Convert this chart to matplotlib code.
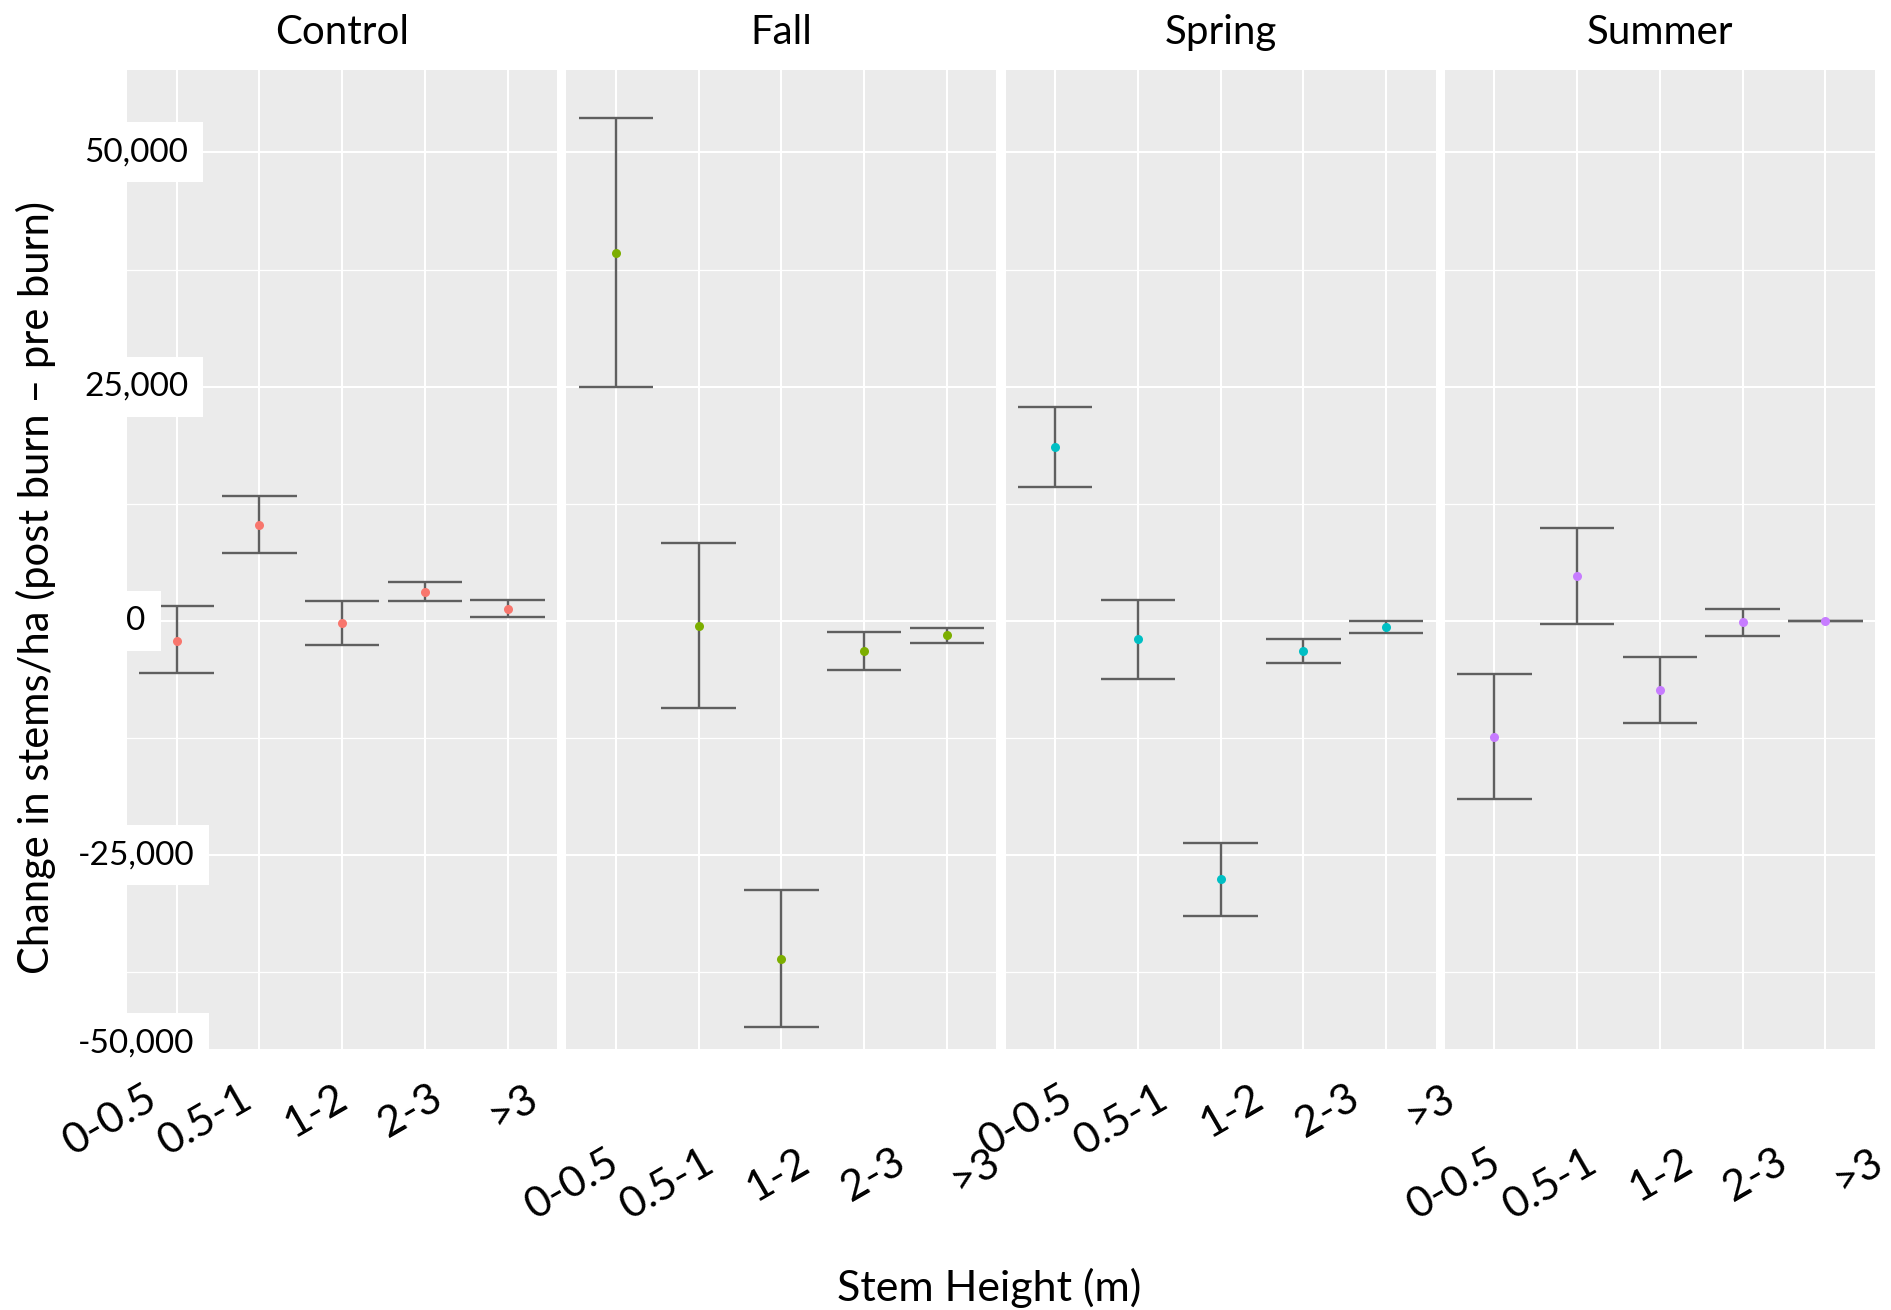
import matplotlib.pyplot as plt
import matplotlib.transforms as mtransforms

plt.rcParams['font.family'] = ['Lato', 'DejaVu Sans']

# treatments (facets) and stem height classes
treatments = ['Control', 'Fall', 'Spring', 'Summer']
heights = ['0-0.5', '0.5-1', '1-2', '2-3', '>3']
colors = ['#F8766D', '#7CAE00', '#00BFC4', '#C77CFF']

# change in stems/ha: mean and error bar ends
control_mean = [-2130, 10250, -210, 3100, 1310]
control_lo = [-5550, 7260, -2560, 2160, 430]
control_hi = [1540, 13340, 2160, 4160, 2200]

fall_mean = [39260, -500, -36080, -3190, -1500]
fall_lo = [24920, -9250, -43360, -5210, -2320]
fall_hi = [53620, 8330, -28740, -1170, -770]

spring_mean = [18570, -1910, -27580, -3260, -630]
spring_lo = [14260, -6220, -31490, -4540, -1300]
spring_hi = [22820, 2260, -23680, -1970, -20]

summer_mean = [-12360, 4760, -7370, -160, 0]
summer_lo = [-18960, -360, -10880, -1580, 0]
summer_hi = [-5690, 9950, -3860, 1260, 0]

means = [control_mean, fall_mean, spring_mean, summer_mean]
lows = [control_lo, fall_lo, spring_lo, summer_lo]
highs = [control_hi, fall_hi, spring_hi, summer_hi]

ytick_vals = [50000, 25000, 0, -25000]
ytick_labels = ['50,000', '25,000', '0', '-25,000']

fig, axes = plt.subplots(1, 4, figsize=(18.91, 13.10), dpi=100, sharey=True)
fig.subplots_adjust(left=0.0672, right=0.9915, bottom=0.1992, top=0.9466, wspace=0.021)

# the pasted x labels sit lower under Fall and Summer and drift right
label_drop = [46, 110, 46, 110]
label_shift = [-23, 0, 15, 4]

x = list(range(len(heights)))
for j, ax in enumerate(axes):
    ax.set_facecolor('#EBEBEB')
    for s in ax.spines.values():
        s.set_visible(False)
    ax.set_xlim(-0.6, 4.6)
    ax.set_ylim(-45700, 58800)
    ax.set_xticks(x)
    ax.set_yticks([-25000, 0, 25000, 50000])
    ax.set_yticks([-37500, -12500, 12500, 37500], minor=True)
    ax.tick_params(which='both', length=0, labelbottom=False, labelleft=False)
    ax.grid(which='major', color='white', lw=1.5)
    ax.grid(which='minor', axis='y', color='white', lw=0.9)
    ax.set_axisbelow(True)

    ax.vlines(x, lows[j], highs[j], color='#5f5f5f', lw=1.7, zorder=3)
    ax.hlines(lows[j], [i - 0.45 for i in x], [i + 0.45 for i in x], color='#5f5f5f', lw=1.7, zorder=3)
    ax.hlines(highs[j], [i - 0.45 for i in x], [i + 0.45 for i in x], color='#5f5f5f', lw=1.7, zorder=3)
    ax.plot(x, means[j], 'o', color=colors[j], ms=6.5, mec='none', zorder=4)

    ax.text(0.5, 1.038, treatments[j], transform=ax.transAxes, ha='center', va='center', fontsize=29)

    base = mtransforms.blended_transform_factory(ax.transData, ax.transAxes)
    for i, lab in enumerate(heights):
        tr = mtransforms.offset_copy(base, fig=fig, x=label_shift[j] + 12.5 * i,
                                     y=-label_drop[j], units='dots')
        ax.text(i, 0, lab, transform=tr, rotation=30, rotation_mode='anchor',
                ha='right', va='center', fontsize=31)

# y tick labels sit in white boxes that overlap the first panel
ax0 = axes[0]
ytr = mtransforms.blended_transform_factory(ax0.transAxes, ax0.transData)
box = dict(fc='white', ec='none', boxstyle='square,pad=0.45')
for v, lab in zip(ytick_vals, ytick_labels):
    ax0.text(0.021, v, lab, transform=ytr, ha='center', va='center', fontsize=24, bbox=box, zorder=6)
ax0.text(0.021, 0.006, '-50,000', transform=ax0.transAxes, ha='center', va='center',
         fontsize=24, bbox=box, zorder=6)

fig.text(36 / 1891, 1 - 588 / 1310, 'Change in stems/ha (post burn – pre burn)',
         rotation=90, ha='center', va='center', fontsize=30)
fig.text(989 / 1891, 1 - 1288 / 1310, 'Stem Height (m)', ha='center', va='center', fontsize=31)

fig.savefig('out.png', dpi=100)
